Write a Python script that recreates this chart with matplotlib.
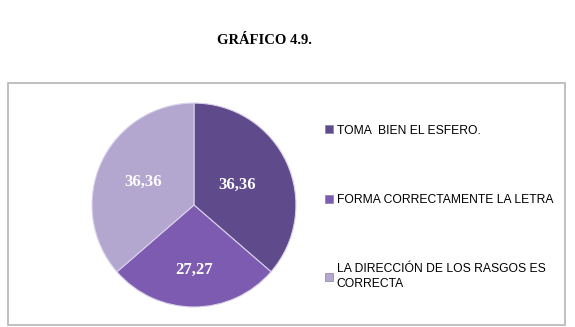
import matplotlib
matplotlib.use("Agg")
import matplotlib.pyplot as plt
from matplotlib.patches import Rectangle
import numpy as np

# data
categories = ["TOMA  BIEN EL ESFERO.",
              "FORMA CORRECTAMENTE LA LETRA",
              "LA DIRECCIÓN DE LOS RASGOS ES\nCORRECTA"]
values = [36.36, 27.27, 36.36]
value_labels = ["36,36", "27,27", "36,36"]
colors = ["#5f4a8b", "#7c5bb0", "#b4a7cf"]
label_radius = [0.47, 0.64, 0.55]

fig = plt.figure(figsize=(5.75, 3.27), dpi=100)

# outer frame of the chart area
fig.patches.append(Rectangle((8 / 575, 2 / 327), 557 / 575, 242 / 327,
                             transform=fig.transFigure, fill=False,
                             edgecolor="#b5b5b5", linewidth=1.2))

fig.text(0.46, 0.877, "GRÁFICO 4.9.", ha="center", va="center",
         family="Liberation Serif", weight="bold", fontsize=10.5)

ax = fig.add_axes([0.1565, 0.055, 0.3617, 0.636])
wedges, texts = ax.pie(values, colors=colors, startangle=90, counterclock=False,
                       radius=1.0,
                       wedgeprops=dict(edgecolor="#d9d0ea", linewidth=0.8))
ax.set_xlim(-1.02, 1.02)
ax.set_ylim(-1.02, 1.02)
ax.set_aspect("equal")
ax.axis("off")

for w, lab, r in zip(wedges, value_labels, label_radius):
    ang = np.deg2rad((w.theta1 + w.theta2) / 2)
    ax.text(r * np.cos(ang), r * np.sin(ang), lab, ha="center", va="center",
            color="white", family="Liberation Serif", weight="bold", fontsize=12)

leg = fig.legend(wedges, categories, loc="upper left",
                 bbox_to_anchor=(0.557, 0.634), frameon=False,
                 prop=dict(family="Liberation Sans", size=8.7),
                 handlelength=0.65, handleheight=0.65, handletextpad=0.3,
                 labelspacing=4.75, borderaxespad=0)
for t in leg.get_texts():
    t.set_linespacing(1.25)
for h in leg.legend_handles:
    h.set_edgecolor("#8a80a0")
    h.set_linewidth(0.5)

fig.savefig("out.png", dpi=100)
